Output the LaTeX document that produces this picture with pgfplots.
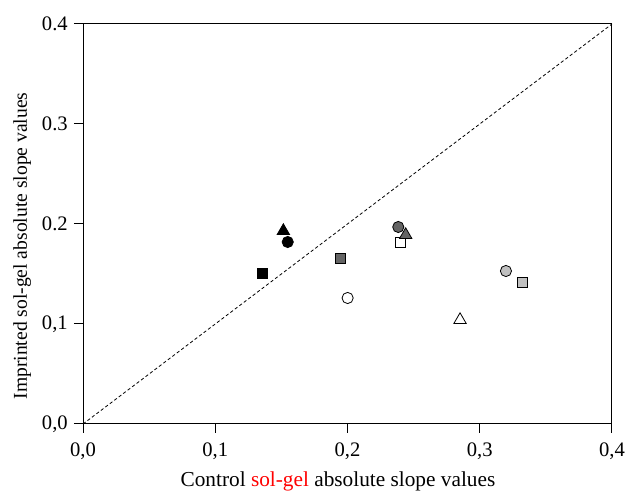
\documentclass[border=0pt]{standalone}
\usepackage{pgfplots}
\pgfplotsset{compat=1.18}
\usepackage{fontspec}
\setmainfont{Liberation Serif}
\definecolor{dgray}{HTML}{646464}
\definecolor{lgray}{HTML}{C0C0C0}
\begin{document}
\fontsize{10.3}{12}\selectfont
\begin{tikzpicture}
\useasboundingbox (-41.5pt,-33.5pt) rectangle (271.5pt,212pt);
\begin{axis}[
  at={(0,0)}, anchor=south west,
  scale only axis, width=264.5pt, height=200pt,
  xmin=0, xmax=0.4, ymin=0, ymax=0.4,
  axis line style={line width=0.5pt},
  tick style={line width=0.5pt, black},
  tick align=outside, major tick length=4.5pt,
  xtick pos=bottom, ytick pos=left,
  xtick={0,0.1,0.2,0.3,0.4}, ytick={0,0.1,0.2,0.3,0.4},
  xticklabels={{0,0},{0,1},{0,2},{0,3},{0,4}},
  yticklabels={{0,0},{0,1},{0.2},{0.3},{0.4}},
  /pgf/number format/assume math mode=true,
  ticklabel style={font=\fontsize{10.3}{12}\selectfont},
  xticklabel style={yshift=-1.5pt},
  yticklabel style={xshift=0.5pt},
  xlabel={Control \textcolor{red}{sol-gel} absolute slope values},
  ylabel={Imprinted sol-gel absolute slope values},
  xlabel style={font=\fontsize{10.65}{12}\selectfont, at={(axis description cs:0.482,0)}, anchor=base, yshift=-31.5pt},
  ylabel style={font=\fontsize{9.8}{12}\selectfont, at={(axis description cs:-0.1059,0.445)}, anchor=base},
  clip=false,
]
\addplot[black, line width=0.4pt, dash pattern=on 1.6pt off 1.2pt] coordinates {(0,0) (0.4,0.4)};
% squares
\addplot[only marks, mark=square*, mark size=2.5pt, mark options={draw=black, line width=0.4pt, fill=black}] coordinates {(0.1353,0.151)};
\addplot[only marks, mark=square*, mark size=2.5pt, mark options={draw=black, line width=0.4pt, fill=dgray}] coordinates {(0.1948,0.166)};
\addplot[only marks, mark=square*, mark size=2.5pt, mark options={draw=black, line width=0.4pt, fill=white}] coordinates {(0.2402,0.182)};
\addplot[only marks, mark=square*, mark size=2.5pt, mark options={draw=black, line width=0.4pt, fill=lgray}] coordinates {(0.3322,0.142)};
% circles
\addplot[only marks, mark=*, mark size=2.8pt, mark options={draw=black, line width=0.4pt, fill=black}] coordinates {(0.1548,0.182)};
\addplot[only marks, mark=*, mark size=2.8pt, mark options={draw=black, line width=0.4pt, fill=dgray}] coordinates {(0.2384,0.197)};
\addplot[only marks, mark=*, mark size=2.8pt, mark options={draw=black, line width=0.4pt, fill=white}] coordinates {(0.2001,0.126)};
\addplot[only marks, mark=*, mark size=2.8pt, mark options={draw=black, line width=0.4pt, fill=lgray}] coordinates {(0.3198,0.153)};
% triangles
\addplot[only marks, mark=triangle*, mark size=3.6pt, mark options={draw=black, line width=0.4pt, fill=black}] coordinates {(0.1515,0.193)};
\addplot[only marks, mark=triangle*, mark size=3.6pt, mark options={draw=black, line width=0.4pt, fill=dgray}] coordinates {(0.244,0.189)};
\addplot[only marks, mark=triangle*, mark size=3.6pt, mark options={draw=black, line width=0.4pt, fill=white}] coordinates {(0.2851,0.104)};
\end{axis}
\end{tikzpicture}
\end{document}
